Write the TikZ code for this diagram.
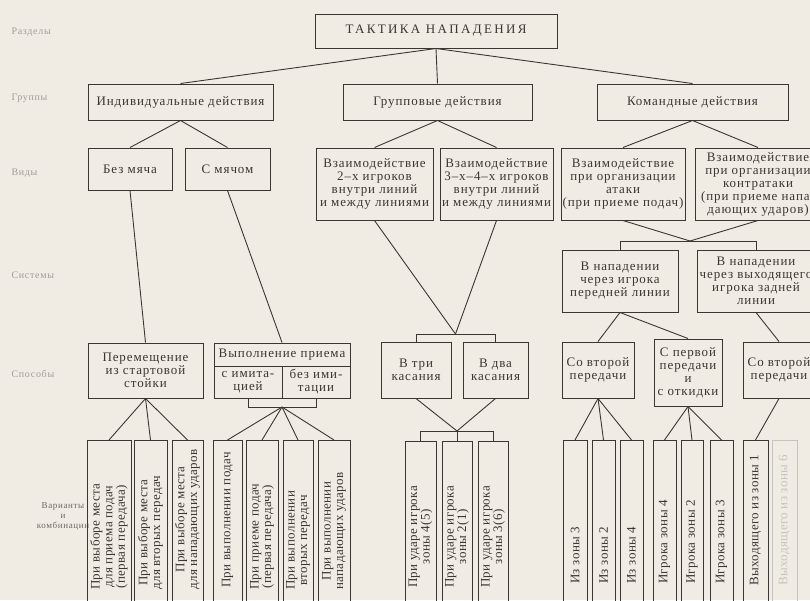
\documentclass[tikz,border=0pt]{standalone}
\usepackage{fontspec}
\setmainfont{Liberation Serif}[LetterSpace=7]
\newfontfamily\titlefont{Liberation Serif}[LetterSpace=18]
\newfontfamily\vertfont{Liberation Serif}[LetterSpace=3]
\definecolor{paper}{RGB}{240,236,228}
\definecolor{ink}{RGB}{58,54,50}
\definecolor{faded}{RGB}{160,157,152}

\tikzset{
  box/.style={draw=ink, line width=1pt, align=center, inner sep=1pt, text=ink, font=\fontsize{13}{13}\selectfont},
  link/.style={draw=ink, line width=0.9pt},
  vbox/.style={draw=ink, line width=1pt, anchor=north, minimum height=180pt, inner sep=0pt},
  vtext/.style={rotate=90, anchor=west, align=center, inner sep=0pt, text=ink, font=\vertfont\fontsize{13}{12.6}\selectfont},
  rowname/.style={anchor=west, text=faded, font=\fontsize{10}{11}\selectfont},
}

\begin{document}
\begin{tikzpicture}[x=1pt,y=-1pt]
  \useasboundingbox (0,0) rectangle (810,600);
  \clip (0,0) rectangle (810,600);
  \fill[paper] (0,0) rectangle (810,600);

  % row names
  \node[rowname] (lraz) at (8,32) {Разделы};
  \node[rowname] (lgrp) at (8,98) {Группы};
  \node[rowname] (lvid) at (8,173) {Виды};
  \node[rowname] (lsys) at (8,275) {Системы};
  \node[rowname] (lspo) at (8,374) {Способы};
  \node[align=center, inner sep=0pt, text=ink!75, font=\fontsize{9}{10}\selectfont] (lvar) at (63,516) {Варианты\\и\\комбинации};

  \node[box, minimum width=242pt, minimum height=34pt, font=\titlefont\fontsize{13}{13}\selectfont] (tak) at (436,31) {ТАКТИКА НАПАДЕНИЯ};

  \node[box, minimum width=185pt, minimum height=36pt] (ind) at (180.5,102) {Индивидуальные действия};
  \node[box, minimum width=189pt, minimum height=36pt] (grp) at (437.5,102) {Групповые действия};
  \node[box, minimum width=191pt, minimum height=36pt] (kom) at (692.5,102) {Командные действия};

  \node[box, minimum width=84pt, minimum height=42pt] (bez) at (130,169) {Без мяча};
  \node[box, minimum width=85pt, minimum height=42pt] (smy) at (227.5,169) {С мячом};
  \node[box, minimum width=117pt, minimum height=72pt] (vz2) at (374.5,184) {Взаимодействие\\2–х игроков\\внутри линий\\и между линиями};
  \node[box, minimum width=113pt, minimum height=72pt] (vz3) at (496.5,184) {Взаимодействие\\3–х–4–х игроков\\внутри линий\\и между линиями};
  \node[box, minimum width=124pt, minimum height=72pt] (vat) at (623,184) {Взаимодействие\\при организации\\атаки\\(при приеме подач)};
  \node[box, minimum width=126pt, minimum height=72pt] (vkon) at (758,184) {Взаимодействие\\при организации\\контратаки\\(при приеме напа-\\дающих ударов)};

  \node[box, minimum width=116pt, minimum height=62pt] (sper) at (620,281) {В нападении\\через игрока\\передней линии};
  \node[box, minimum width=118pt, minimum height=62pt] (szad) at (756,281) {В нападении\\через выходящего\\игрока задней\\линии};

  \node[box, minimum width=115pt, minimum height=55pt] (perem) at (145.5,370.5) {Перемещение\\из стартовой\\стойки};
  \node[box, minimum width=136pt, minimum height=23pt] (vyp) at (282,354.5) {Выполнение приема};
  \node[box, minimum width=68pt, minimum height=32pt] (vypa) at (248,382) {с имита-\\цией};
  \node[box, minimum width=68pt, minimum height=32pt] (vypb) at (316,382) {без ими-\\тации};
  \node[box, minimum width=70pt, minimum height=56pt] (tri) at (416,370) {В три\\касания};
  \node[box, minimum width=65pt, minimum height=56pt] (dva) at (495.5,370) {В два\\касания};
  \node[box, minimum width=72pt, minimum height=56pt] (svt) at (598,370) {Со второй\\передачи};
  \node[box, minimum width=68pt, minimum height=67pt] (sper1) at (688,372.5) {С первой\\передачи\\и\\с откидки};
  \node[box, minimum width=72pt, minimum height=56pt] (svt2) at (779,370) {Со второй\\передачи};

  % variants
  \node[vbox, minimum width=44pt] (a1) at (109,440) {};
  \node[vbox, minimum width=33pt] (a2) at (150.5,440) {};
  \node[vbox, minimum width=31pt] (a3) at (187.5,440) {};
  \node[vbox, minimum width=29pt] (b1) at (227.5,440) {};
  \node[vbox, minimum width=32pt] (b2) at (262,440) {};
  \node[vbox, minimum width=30pt] (b3) at (298,440) {};
  \node[vbox, minimum width=32pt] (b4) at (334,440) {};
  \node[vbox, minimum width=31pt] (c1) at (420.5,441) {};
  \node[vbox, minimum width=30pt] (c2) at (457,441) {};
  \node[vbox, minimum width=30pt] (c3) at (493,441) {};
  \node[vbox, minimum width=24pt] (d1) at (575,440) {};
  \node[vbox, minimum width=23pt] (d2) at (603.5,440) {};
  \node[vbox, minimum width=23pt] (d3) at (631.5,440) {};
  \node[vbox, minimum width=23pt] (e1) at (664.5,440) {};
  \node[vbox, minimum width=22pt] (e2) at (692,440) {};
  \node[vbox, minimum width=23pt] (e3) at (721.5,440) {};
  \node[vbox, minimum width=25pt] (f1) at (755.5,440) {};
  \node[vbox, minimum width=25pt, draw=faded!60] (f2) at (784.5,440) {};

  \node[vtext] (a1t) at (109,590) {При выборе места\\для приема подач\\(первая передача)};
  \node[vtext] (a2t) at (150.5,590) {При выборе места\\для вторых передач};
  \node[vtext] (a3t) at (187.5,590) {При выборе места\\для нападающих ударов};
  \node[vtext] (b1t) at (227.5,588) {При выполнении подач};
  \node[vtext] (b2t) at (262,590) {При приеме подач\\(первая передача)};
  \node[vtext] (b3t) at (298,590) {При выполнении\\вторых передач};
  \node[vtext] (b4t) at (334,590) {При выполнении\\нападающих ударов};
  \node[vtext] (c1t) at (420.5,588) {При ударе игрока\\зоны 4(5)};
  \node[vtext] (c2t) at (457,588) {При ударе игрока\\зоны 2(1)};
  \node[vtext] (c3t) at (493,588) {При ударе игрока\\зоны 3(6)};
  \node[vtext] (d1t) at (575,584) {Из зоны 3};
  \node[vtext] (d2t) at (603.5,584) {Из зоны 2};
  \node[vtext] (d3t) at (631.5,584) {Из зоны 4};
  \node[vtext] (e1t) at (664.5,584) {Игрока зоны 4};
  \node[vtext] (e2t) at (692,584) {Игрока зоны 2};
  \node[vtext] (e3t) at (721.5,584) {Игрока зоны 3};
  \node[vtext] (f1t) at (755.5,586) {Выходящего из зоны 1};
  \node[vtext, text=faded!60] (f2t) at (784.5,586) {Выходящего из зоны 6};

  \coordinate (kj) at (690,241);
  \coordinate (gj) at (455.5,334);
  \coordinate (vj) at (282,407);
  \coordinate (cj) at (457,431);

  \draw[link] (tak.south) -- (ind.north);
  \draw[link] (tak.south) -- (grp.north);
  \draw[link] (tak.south) -- (kom.north);

  \draw[link] (ind.south) -- (bez.north);
  \draw[link] (ind.south) -- (smy.north);
  \draw[link] (grp.south) -- (vz2.north);
  \draw[link] (grp.south) -- (vz3.north);
  \draw[link] (kom.south) -- (vat.north);
  \draw[link] (kom.south) -- (vkon.north);

  \draw[link] (bez.south) -- (perem.north);
  \draw[link] (smy.south) -- (vyp.north);
  \draw[link] (vz2.south) -- (gj);
  \draw[link] (vz3.south) -- (gj);
  \draw[link] (tri.north) -- (tri.north |- gj) -- (dva.north |- gj) -- (dva.north);
  \draw[link] (vat.south) -- (kj);
  \draw[link] (vkon.south) -- (kj);
  \draw[link] (sper.north) -- (sper.north |- kj) -- (szad.north |- kj) -- (szad.north);

  \draw[link] (sper.south) -- (svt.north);
  \draw[link] (sper.south) -- (sper1.north);
  \draw[link] (szad.south) -- (svt2.north);

  \draw[link] (perem.south) -- (a1.north);
  \draw[link] (perem.south) -- (a2.north);
  \draw[link] (perem.south) -- (a3.north);
  \draw[link] (vypa.south) -- (vypa.south |- vj) -- (vypb.south |- vj) -- (vypb.south);
  \draw[link] (vj) -- (b1.north);
  \draw[link] (vj) -- (b2.north);
  \draw[link] (vj) -- (b3.north);
  \draw[link] (vj) -- (b4.north);
  \draw[link] (tri.south) -- (cj);
  \draw[link] (dva.south) -- (cj);
  \draw[link] (c1.north) -- (c1.north |- cj) -- (c3.north |- cj) -- (c3.north);
  \draw[link] (cj) -- (c2.north);
  \draw[link] (svt.south) -- (d1.north);
  \draw[link] (svt.south) -- (d2.north);
  \draw[link] (svt.south) -- (d3.north);
  \draw[link] (sper1.south) -- (e1.north);
  \draw[link] (sper1.south) -- (e2.north);
  \draw[link] (sper1.south) -- (e3.north);
  \draw[link] (svt2.south) -- (f1.north);
\end{tikzpicture}
\end{document}
